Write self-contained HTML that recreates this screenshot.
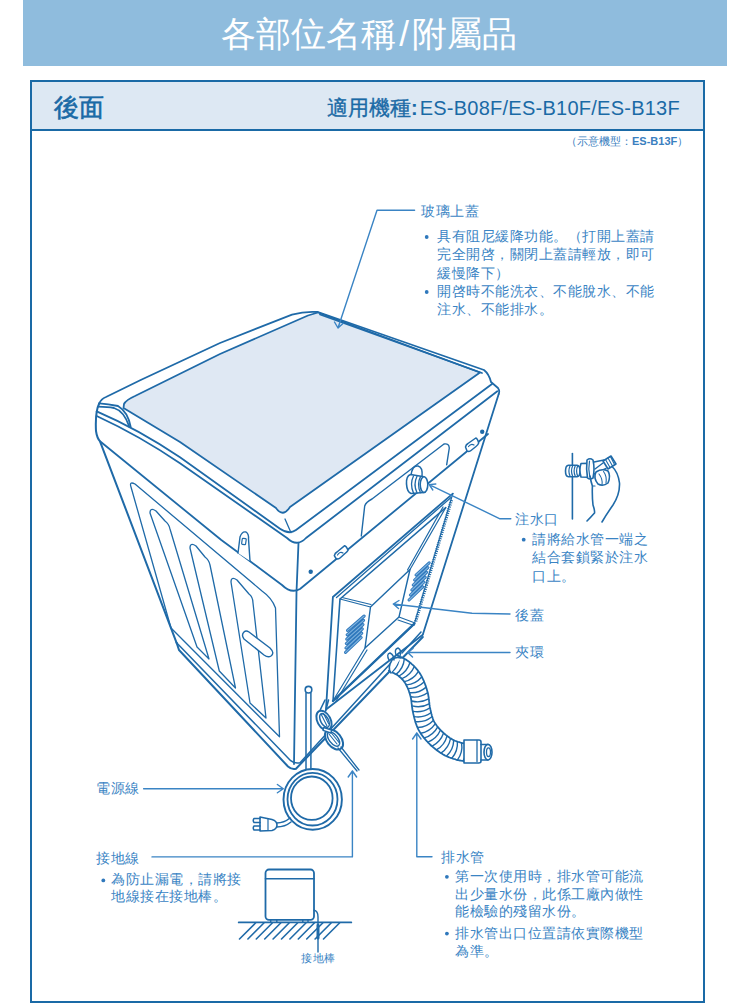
<!DOCTYPE html>
<html><head><meta charset="utf-8">
<style>
html,body{margin:0;padding:0;background:#fff;}
body{width:750px;height:1007px;position:relative;overflow:hidden;font-family:"Liberation Sans",sans-serif;}
.hdr{position:absolute;left:23px;top:0;width:704px;height:66px;background:#8fbcdd;}
.title{position:absolute;left:-6px;top:1px;width:750px;text-align:center;color:#fff;font-size:35px;line-height:66px;}
.frame{position:absolute;left:30px;top:80px;width:671px;height:919px;border:2px solid #1a6aa6;}
.row{position:absolute;left:32px;top:82px;width:671px;height:47px;background:#dde8f3;border-bottom:2px solid #1a6aa6;}
.t{position:absolute;white-space:nowrap;color:#3a84c4;font-size:14px;letter-spacing:0.5px;line-height:18px;}
svg{position:absolute;left:0;top:0;}
</style></head><body>
<div class="hdr"></div>
<div class="title">各部位名稱<span style="margin:0 3px">/</span>附屬品</div>
<div class="frame"></div>
<div class="row"></div>
<div class="t" style="left:54px;top:89px;font-size:25px;line-height:36px;color:#1a6aa6;font-weight:normal;letter-spacing:0;-webkit-text-stroke:0.6px #1a6aa6;">後面</div>
<div class="t" style="left:327px;top:95px;font-size:20px;line-height:26px;color:#1a6aa6;letter-spacing:0;"><b style="font-size:21px;font-weight:normal;-webkit-text-stroke:0.35px #1a6aa6">適用機種</b><b style="margin:0 2px 0 0">:</b><span style="letter-spacing:0.25px">ES-B08F/ES-B10F/ES-B13F</span></div>
<div class="t" style="left:566px;top:134px;font-size:11px;line-height:14px;color:#3a80c0;letter-spacing:0;">（示意機型：<b>ES-B13F</b>）</div>
<svg width="750" height="1007" viewBox="0 0 750 1007">
<g fill="none" stroke="#1f6aa8" stroke-width="1.8" stroke-linejoin="round" stroke-linecap="round">
<!-- lid fill -->
<path d="M124,404 Q126,400 135,396 L220,354 L308,315.5 L318,312.5 L480,372.5 L290,507 Q283,518 276,508 L180,442 L123.5,408 Z" fill="#dfe8f3" stroke-width="1.8"/>
<!-- outer top silhouette -->
<path d="M99.3,403.3 Q101,399 106,397 L140.7,380 L220,343 L292,314.6 Q305,311 318,312 L484,370 Q489,374 491,382 L498,388 Q500,391 498.7,394"/>
<path d="M320,314.5 L482,373"/>
<!-- lid lip -->
<path d="M99.3,403.3 Q108,404 118,406 Q128,412 130.7,427"/>
<path d="M98,406.7 Q108,407 114,408 Q124,411 129.3,426.7"/>
<!-- outer left edge -->
<path d="M99.3,403.3 Q95,412 96,431 Q97,438 100,441.3 L176.6,642.8" stroke-width="2"/>
<!-- rim A -->
<path d="M96.7,411.3 Q140,430 180,457.3 L280,528.7 Q289,535 296,530 L492,384"/>
<!-- rim B -->
<path d="M96.7,416 Q140,436 180,463.3 L287,538 Q297,547.5 306,538 L497.3,391.3"/>
<!-- tick near front corner -->
<path d="M285,519 L291,532.7" stroke-width="1.3"/>
<!-- band line both faces -->
<path d="M100,441.3 L221.3,540 L282,585 Q291,594 300,589 L488,434"/>
<!-- front vertical edge -->
<path d="M298.5,542.7 L296.5,592 L294,764"/>
<!-- right vertical edge -->
<path d="M498.7,394 L423,634"/>
<!-- left bottom double -->
<path d="M176.6,642.8 L179,650 L288,766.5 Q292,770 296,768.7 L390,671 M401,659.5 L422.8,637" stroke-width="2"/>
<path d="M176.6,642.8 L290.7,760.7 Q295,764 300,762.7 L390,664 M402,653 L421,632" stroke-width="1.5"/>
<!-- panel recess on right face -->
<path d="M361.3,536 L364.7,506 Q366,502 372,499 L444,444 Q449,443 449.3,448 L446.7,464.7" stroke-width="1.4"/>
<!-- hooks right face -->
<path d="M334.3,555.7 Q335,553 337,552 L344.7,545.7 Q346.5,546 348,550.3 Q347,552 345,553.5 L340,558 Q338.5,559.5 336,558.5 Z" stroke-width="1.5" fill="#fff"/>
<path d="M337.5,555 Q340,551 343,553" stroke-width="1.2"/>
<path d="M465.5,447 Q466,444.5 468,443.5 L475.8,438 Q477.5,438.5 478.7,443 Q478,445 476,446.5 L471,450.5 Q469.5,452 467,451 Z" stroke-width="1.5" fill="#fff"/>
<path d="M468.5,446.5 Q471,443 474,445" stroke-width="1.2"/>
<circle cx="310.7" cy="571.7" r="2.2" fill="#1f6aa8" stroke="none"/>
<circle cx="482.2" cy="431.7" r="2.2" fill="#1f6aa8" stroke="none"/>
<!-- left face panel frame -->
<path d="M131,487 Q129,481 135,484 L262,591 Q272,598 275.5,608 L279.5,736.8 L171,628 Z" stroke-width="1.3"/>
<!-- ribs -->
<path d="M150,513 Q150,507 156,511 L165,521 Q169,524 170,529 L209,659 L197,647 Z" stroke-width="1.3"/>
<path d="M190,548 Q190,542 196,546 L205,557 Q209,560 210,565 L235.5,688 L219.3,671 Z" stroke-width="1.3"/>
<path d="M231,582 Q231,576 237,580 L249,594 Q253,597 253,603 L266,718 L250,703 Z" stroke-width="1.3"/>
<!-- handle slot -->
<path d="M249,632 L270,648 Q275,653 271,656 Q268,658 264,655 L244,639 Q241,635 244,632 Q246,630 249,632 Z" stroke-width="1.4" fill="#fff"/>
<!-- left hook tab -->
<path d="M238,553 L240,537 Q242,531 246,532 Q249,534 248.5,539 L250,561" stroke-width="1.4" fill="#fff"/>
<rect x="242" y="538.5" width="4" height="6" rx="0.8" stroke-width="1.2" transform="rotate(8 244 541)"/>
<!-- cover outer -->
<path d="M452.8,493.6 L332.9,597 L326,709.5 L422.8,634.7" stroke-width="1.8"/>
<path d="M451,497.5 L336.5,597.5" stroke-width="1.3"/>
<path d="M414.4,623.6 L333,701 L340,599 L445.7,507.7" stroke-width="1.6"/><path d="M452.8,493.6 L414.4,623.6" stroke-width="1.2"/>
<path d="M414.4,623.6 L333,701" stroke-width="2.4"/>
<path d="M451.5,500 L415.5,622" stroke-width="3.2" stroke-dasharray="1.1 1.1" stroke-linecap="butt"/>
<!-- inner box -->
<path d="M370.5,607 L410,569.5 L399,617 L365,648 Z" stroke-width="1.4"/>
<path d="M340,599 L370.5,607 M342,597.5 L371,604.5 M445.7,507.7 L410,569.5 M443,507 L407.5,570 M414.4,622.8 L399,617 M414,625.5 L398,620 M333,700.8 L365,648 M336,701 L367,650" stroke-width="1.2"/>
<!-- water inlet -->
<path d="M411,476 Q412,465 418,466 Q423,467 422,477" stroke-width="1.5"/>
<path d="M410.5,474.5 Q406,476 406.5,484 Q407,492 411,493.5 L424,492.5 L424,476.8 Z" fill="#fff" stroke-width="1.6"/>
<path d="M413.5,476 Q409.5,484 413.5,493 M417,476.3 Q413,484.5 417,492.8 M420.5,476.6 Q416.5,484.5 420.5,492.6" stroke-width="1.3"/>
<ellipse cx="424" cy="484.6" rx="3.8" ry="7.8" fill="#fff" stroke-width="1.6"/>
<!-- vents -->
<path d="M347.5,630.4 L364.2,616.0 M347.1,634.8 L363.6,620.3 M346.7,639.2 L363.0,624.6 M346.3,643.6 L362.4,628.9 M345.9,648.0 L361.8,633.2 M345.5,652.4 L361.2,637.5 M416.0,575.0 L429.2,562.8 M414.6,580.0 L427.9,567.6 M413.2,585.0 L426.6,572.4 M411.8,590.0 L425.3,577.2 M410.4,595.0 L424.0,582.0 M409.0,600.0 L422.7,586.8 " stroke="#2f78bc" stroke-width="3"/><path d="M347.5,630.4 L364.2,616.0 M347.1,634.8 L363.6,620.3 M346.7,639.2 L363.0,624.6 M346.3,643.6 L362.4,628.9 M345.9,648.0 L361.8,633.2 M345.5,652.4 L361.2,637.5 M416.0,575.0 L429.2,562.8 M414.6,580.0 L427.9,567.6 M413.2,585.0 L426.6,572.4 M411.8,590.0 L425.3,577.2 M410.4,595.0 L424.0,582.0 M409.0,600.0 L422.7,586.8 " stroke="#7fb3df" stroke-width="1.1"/>
<!-- hose -->
<path d="M388.8,670.7 L389.8,671.3 L390.8,671.8 L391.7,672.2 L392.6,672.6 L393.5,673.0 L394.3,673.4 L395.0,673.8 L395.7,674.1 L396.3,674.5 L396.9,674.8 L397.5,675.1 L397.9,675.4 L398.4,675.8 L398.9,676.2 L399.5,676.7 L400.1,677.2 L400.7,677.8 L401.3,678.3 L401.8,678.9 L402.3,679.4 L402.9,680.0 L403.4,680.6 L403.8,681.2 L404.3,681.8 L404.7,682.4 L405.2,683.1 L405.6,683.8 L406.0,684.5 L406.4,685.3 L406.8,686.2 L407.3,687.1 L407.7,688.0 L408.1,689.0 L408.5,690.0 L408.9,691.0 L409.2,692.1 L409.6,693.2 L409.9,694.2 L410.2,695.3 L410.5,696.3 L410.7,697.1 L410.9,698.0 L411.1,699.0 L411.2,700.0 L411.4,701.1 L411.5,702.2 L411.6,703.4 L411.8,704.6 L411.9,705.9 L412.1,707.2 L412.3,708.6 L412.5,710.0 L412.8,711.4 L413.1,712.7 L413.3,713.9 L413.6,715.1 L413.9,716.3 L414.2,717.5 L414.5,718.8 L414.9,720.1 L415.2,721.4 L415.6,722.7 L416.1,724.0 L416.6,725.4 L417.1,726.7 L417.7,728.0 L418.3,729.4 L419.0,730.6 L419.7,731.8 L420.5,733.0 L421.2,734.2 L422.0,735.3 L422.8,736.4 L423.6,737.4 L424.4,738.4 L425.3,739.4 L426.1,740.4 L427.0,741.3 L427.8,742.3 L428.7,743.2 L429.7,744.1 L430.6,745.0 L431.6,746.0 L432.7,746.9 L433.7,747.7 L434.7,748.6 L435.8,749.4 L436.8,750.2 L437.9,751.0 L439.0,751.8 L440.0,752.5 L441.1,753.2 L442.1,753.8 L443.2,754.5 L444.3,755.1 L445.4,755.7 L446.5,756.2 L447.6,756.7 L448.6,757.1 L449.6,757.5 L450.6,757.8 L451.6,758.2 L452.5,758.5 L453.3,758.8 L454.1,759.0 L454.9,759.2 L455.7,759.5 L456.6,759.8 L457.5,760.0 L458.4,760.2 L459.2,760.4 L460.0,760.5 L460.7,760.6 L461.3,760.7 L462.0,760.8 L462.5,760.9 L463.0,760.9 L463.5,761.0 L464.0,761.1 L464.4,761.2 L467.6,743.8 L466.9,743.7 L466.1,743.6 L465.5,743.5 L464.9,743.4 L464.3,743.3 L463.8,743.3 L463.3,743.2 L462.9,743.1 L462.5,743.1 L462.1,743.0 L461.7,742.9 L461.2,742.8 L460.8,742.7 L460.2,742.5 L459.4,742.2 L458.7,742.0 L458.0,741.8 L457.3,741.5 L456.6,741.3 L455.9,741.0 L455.2,740.8 L454.5,740.5 L453.9,740.2 L453.2,739.9 L452.6,739.6 L452.0,739.2 L451.3,738.8 L450.6,738.4 L449.8,737.9 L449.0,737.3 L448.2,736.7 L447.4,736.1 L446.6,735.5 L445.8,734.9 L445.0,734.2 L444.2,733.5 L443.4,732.9 L442.7,732.2 L442.0,731.5 L441.3,730.8 L440.6,730.1 L439.9,729.4 L439.2,728.7 L438.6,727.9 L438.0,727.2 L437.4,726.5 L436.8,725.7 L436.3,725.0 L435.8,724.3 L435.3,723.5 L434.8,722.8 L434.4,722.1 L434.0,721.3 L433.6,720.6 L433.3,719.9 L433.0,719.1 L432.7,718.2 L432.4,717.3 L432.1,716.4 L431.8,715.4 L431.6,714.4 L431.3,713.4 L431.0,712.3 L430.8,711.2 L430.5,710.0 L430.3,708.9 L430.0,707.8 L429.8,706.9 L429.7,705.9 L429.5,704.9 L429.4,703.8 L429.3,702.6 L429.1,701.4 L429.0,700.2 L428.8,698.9 L428.7,697.5 L428.4,696.1 L428.2,694.7 L427.9,693.2 L427.5,691.7 L427.1,690.4 L426.7,689.1 L426.3,687.8 L425.9,686.4 L425.4,685.1 L424.9,683.8 L424.4,682.5 L423.9,681.2 L423.3,679.9 L422.7,678.6 L422.1,677.3 L421.5,676.1 L420.8,674.9 L420.1,673.7 L419.3,672.5 L418.5,671.4 L417.8,670.4 L416.9,669.4 L416.1,668.4 L415.3,667.5 L414.4,666.6 L413.6,665.7 L412.7,664.9 L411.8,664.1 L411.0,663.3 L410.1,662.6 L409.1,661.8 L408.0,661.0 L406.9,660.3 L405.9,659.6 L404.8,659.0 L403.8,658.5 L402.8,658.0 L401.9,657.5 L401.0,657.1 L400.1,656.7 L399.3,656.3 L398.6,656.0 L397.9,655.6 L397.2,655.3 Z" fill="#fff" stroke="none"/>
<path d="M388.8,670.7 L389.8,671.3 L390.8,671.8 L391.7,672.2 L392.6,672.6 L393.5,673.0 L394.3,673.4 L395.0,673.8 L395.7,674.1 L396.3,674.5 L396.9,674.8 L397.5,675.1 L397.9,675.4 L398.4,675.8 L398.9,676.2 L399.5,676.7 L400.1,677.2 L400.7,677.8 L401.3,678.3 L401.8,678.9 L402.3,679.4 L402.9,680.0 L403.4,680.6 L403.8,681.2 L404.3,681.8 L404.7,682.4 L405.2,683.1 L405.6,683.8 L406.0,684.5 L406.4,685.3 L406.8,686.2 L407.3,687.1 L407.7,688.0 L408.1,689.0 L408.5,690.0 L408.9,691.0 L409.2,692.1 L409.6,693.2 L409.9,694.2 L410.2,695.3 L410.5,696.3 L410.7,697.1 L410.9,698.0 L411.1,699.0 L411.2,700.0 L411.4,701.1 L411.5,702.2 L411.6,703.4 L411.8,704.6 L411.9,705.9 L412.1,707.2 L412.3,708.6 L412.5,710.0 L412.8,711.4 L413.1,712.7 L413.3,713.9 L413.6,715.1 L413.9,716.3 L414.2,717.5 L414.5,718.8 L414.9,720.1 L415.2,721.4 L415.6,722.7 L416.1,724.0 L416.6,725.4 L417.1,726.7 L417.7,728.0 L418.3,729.4 L419.0,730.6 L419.7,731.8 L420.5,733.0 L421.2,734.2 L422.0,735.3 L422.8,736.4 L423.6,737.4 L424.4,738.4 L425.3,739.4 L426.1,740.4 L427.0,741.3 L427.8,742.3 L428.7,743.2 L429.7,744.1 L430.6,745.0 L431.6,746.0 L432.7,746.9 L433.7,747.7 L434.7,748.6 L435.8,749.4 L436.8,750.2 L437.9,751.0 L439.0,751.8 L440.0,752.5 L441.1,753.2 L442.1,753.8 L443.2,754.5 L444.3,755.1 L445.4,755.7 L446.5,756.2 L447.6,756.7 L448.6,757.1 L449.6,757.5 L450.6,757.8 L451.6,758.2 L452.5,758.5 L453.3,758.8 L454.1,759.0 L454.9,759.2 L455.7,759.5 L456.6,759.8 L457.5,760.0 L458.4,760.2 L459.2,760.4 L460.0,760.5 L460.7,760.6 L461.3,760.7 L462.0,760.8 L462.5,760.9 L463.0,760.9 L463.5,761.0 L464.0,761.1 L464.4,761.2 M397.2,655.3 L397.9,655.6 L398.6,656.0 L399.3,656.3 L400.1,656.7 L401.0,657.1 L401.9,657.5 L402.8,658.0 L403.8,658.5 L404.8,659.0 L405.9,659.6 L406.9,660.3 L408.0,661.0 L409.1,661.8 L410.1,662.6 L411.0,663.3 L411.8,664.1 L412.7,664.9 L413.6,665.7 L414.4,666.6 L415.3,667.5 L416.1,668.4 L416.9,669.4 L417.8,670.4 L418.5,671.4 L419.3,672.5 L420.1,673.7 L420.8,674.9 L421.5,676.1 L422.1,677.3 L422.7,678.6 L423.3,679.9 L423.9,681.2 L424.4,682.5 L424.9,683.8 L425.4,685.1 L425.9,686.4 L426.3,687.8 L426.7,689.1 L427.1,690.4 L427.5,691.7 L427.9,693.2 L428.2,694.7 L428.4,696.1 L428.7,697.5 L428.8,698.9 L429.0,700.2 L429.1,701.4 L429.3,702.6 L429.4,703.8 L429.5,704.9 L429.7,705.9 L429.8,706.9 L430.0,707.8 L430.3,708.9 L430.5,710.0 L430.8,711.2 L431.0,712.3 L431.3,713.4 L431.6,714.4 L431.8,715.4 L432.1,716.4 L432.4,717.3 L432.7,718.2 L433.0,719.1 L433.3,719.9 L433.6,720.6 L434.0,721.3 L434.4,722.1 L434.8,722.8 L435.3,723.5 L435.8,724.3 L436.3,725.0 L436.8,725.7 L437.4,726.5 L438.0,727.2 L438.6,727.9 L439.2,728.7 L439.9,729.4 L440.6,730.1 L441.3,730.8 L442.0,731.5 L442.7,732.2 L443.4,732.9 L444.2,733.5 L445.0,734.2 L445.8,734.9 L446.6,735.5 L447.4,736.1 L448.2,736.7 L449.0,737.3 L449.8,737.9 L450.6,738.4 L451.3,738.8 L452.0,739.2 L452.6,739.6 L453.2,739.9 L453.9,740.2 L454.5,740.5 L455.2,740.8 L455.9,741.0 L456.6,741.3 L457.3,741.5 L458.0,741.8 L458.7,742.0 L459.4,742.2 L460.2,742.5 L460.8,742.7 L461.2,742.8 L461.7,742.9 L462.1,743.0 L462.5,743.1 L462.9,743.1 L463.3,743.2 L463.8,743.3 L464.3,743.3 L464.9,743.4 L465.5,743.5 L466.1,743.6 L466.9,743.7 L467.6,743.8" stroke-width="1.8"/>
<path d="M392.1,672.1 Q399.0,665.9 399.5,656.7 M396.3,674.1 Q403.4,668.3 404.3,659.1 M399.1,676.0 Q407.2,671.6 409.9,662.8 M402.0,678.7 Q410.6,675.2 414.2,666.8 M404.5,681.6 Q413.5,679.4 418.3,671.6 M406.5,684.9 Q415.7,684.1 421.7,677.0 M408.2,688.6 Q417.4,688.6 424.0,682.1 M409.7,692.7 Q418.9,693.4 425.9,687.4 M410.9,696.8 Q420.0,698.2 427.5,692.8 M411.6,701.0 Q420.5,703.4 428.6,698.9 M412.2,705.9 Q421.1,708.3 429.1,703.8 M413.1,711.4 Q422.1,713.0 429.8,707.8 M414.3,716.6 Q423.4,718.1 430.9,712.7 M415.6,721.7 Q424.8,722.6 431.9,716.8 M417.7,727.5 Q427.0,727.2 433.3,720.5 M420.9,733.3 Q430.0,731.5 435.2,723.9 M424.4,737.9 Q433.2,735.2 437.6,727.1 M428.0,742.1 Q436.6,738.7 440.4,730.3 M432.2,746.1 Q440.4,742.0 443.5,733.3 M436.7,749.7 Q444.6,745.1 447.0,736.1 M441.2,752.9 Q448.8,747.7 450.5,738.6 M446.6,755.9 Q453.4,749.6 453.7,740.4 M452.0,758.0 Q458.0,751.1 457.4,741.8 M457.6,759.7 Q463.0,752.3 461.6,743.1 M463.2,760.7 Q467.9,752.7 465.7,743.8" stroke-width="1.4"/>
<path d="M391,673 Q387,668 392,660 Q396,656 401,658" stroke-width="1.6" fill="#fff"/>
<path d="M389,660 Q386,654 390,653 Q394,655 394,660 M396,655 Q394,649 398,648 Q402,650 400,656" stroke-width="1.4"/>
<path d="M464,740 L479,740 Q481,740 481,742 L481,761 Q481,763 479,763 L464,763 Z" fill="#fff" stroke-width="1.6"/>
<path d="M477,740.5 L477,761.5" stroke-width="1.3"/>
<path d="M481,744.5 L488,744.5 M481,760 L488,760" stroke-width="1.6"/>
<ellipse cx="488" cy="752.2" rx="4" ry="7.8" fill="#fff" stroke-width="1.6"/>
<ellipse cx="488.5" cy="752.2" rx="2" ry="4.3" stroke-width="1.3"/>
<!-- ground rod -->
<path d="M306,693 L306,769 M310.9,693 L310.9,769" stroke-width="1.5"/>
<circle cx="308.5" cy="689.7" r="3.3" stroke-width="1.6"/>
<!-- cord bundle -->
<path d="M319.7,711 L325,700 M325.6,711 L328.5,700" stroke-width="1.6"/>
<ellipse cx="324" cy="720.5" rx="10.5" ry="6.6" transform="rotate(62 324 720.5)" fill="#fff" stroke-width="2"/>
<ellipse cx="324.5" cy="720.5" rx="7.5" ry="3.8" transform="rotate(62 324.5 720.5)" stroke-width="1.5"/>
<path d="M321,714 L327,726 M323.5,713.5 L328.5,723.5" stroke-width="1.1"/>
<ellipse cx="334" cy="739.5" rx="11.5" ry="7.2" transform="rotate(52 334 739.5)" fill="#fff" stroke-width="2"/>
<ellipse cx="333.5" cy="739" rx="8.5" ry="4.3" transform="rotate(52 333.5 739)" stroke-width="1.5"/>
<path d="M329,734 L337,744 M331,732.5 L339,742.5" stroke-width="1.1"/>
<path d="M323.8,727.5 L331.6,730.2 L330.8,733 L323,730.3 Z" fill="#fff" stroke-width="1.4"/>
<path d="M338,748 L357,771 M341,747 L359,770" stroke-width="1.3"/>
<!-- coil -->
<ellipse cx="312.7" cy="799.4" rx="29.2" ry="30.4" stroke-width="1.9"/>
<ellipse cx="312.5" cy="799.2" rx="25" ry="26.3" stroke-width="1.8"/>
<ellipse cx="311.8" cy="798.2" rx="20.8" ry="21.7" stroke-width="1.8"/>
<!-- plug -->
<path d="M290,818 Q284,823 276.7,823 M291,822 Q285,827 276.7,827" stroke-width="1.5"/>
<path d="M260,817 L272,819.5 Q277,821 277,825 Q277,829 272,830.5 L260,831 Z" fill="#fff" stroke-width="1.6"/>
<path d="M268,818.5 L268,830.5" stroke-width="1.2"/>
<path d="M260,818.5 L254,818.5 Q252.5,820.5 254,822.5 L260,822.5 M260,826 L254,826 Q252.5,828 254,830 L260,830" stroke-width="1.5"/>
<!-- small box figure -->
<rect x="265.5" y="869.5" width="48.5" height="50.3" rx="3.5" stroke-width="1.8"/>
<path d="M265.5,878.7 L314,878.7" stroke-width="1.6"/>
<path d="M270.7,920 L270.7,922 M276.8,920 L276.8,922 M302.8,920 L302.8,922 M308,920 L308,922" stroke-width="1.4"/>
<path d="M238.7,922.4 L351.3,922.4" stroke-width="1.8"/>
<path d="M239.5,939 L255.5,923 M247.9,939 L263.9,923 M256.3,939 L272.3,923 M264.7,939 L280.7,923 M273.1,939 L289.1,923 M281.5,939 L297.5,923 M289.9,939 L305.9,923 M298.3,939 L314.3,923 M306.7,939 L322.7,923 M315.1,939 L331.1,923 M323.5,939 L339.5,923 " stroke-width="1.6"/>
<path d="M314,910.3 Q318,911 318,917 L318,952" stroke-width="1.4"/>
<path d="M318,925 L318,938" stroke-width="3"/>
<!-- hand figure -->
<path d="M572.4,453.6 L572.4,519" stroke-width="1.6"/>
<path d="M568.5,465.2 L577,465.2 Q580,465.5 580,471 Q580,476.6 577,476.8 L568.5,476.8 Q565.5,476.5 565.5,471 Q565.5,465.5 568.5,465.2 Z" fill="#fff" stroke-width="1.6"/>
<path d="M570,466 Q567.8,471 570,476 M572.6,466 Q570.4,471 572.6,476 M575.2,466 Q573,471 575.2,476 M577.6,466 Q575.6,471 577.6,476" stroke-width="1.2"/>
<path d="M581,463.5 L588,463.2 L588.4,477.2 L581,477 Q578.8,470 581,463.5 Z" fill="#fff" stroke-width="1.6"/>
<path d="M587,460 Q590,457.5 593,460 Q595,469 593,478 Q590,480 587.5,478 Q586,469 587,460 Z" fill="#fff" stroke-width="1.6"/>
<path d="M589.5,461 Q588,469 589.8,477" stroke-width="1.2"/>
<path d="M594,462 L604,460 M594,474 L606,468.5 M595,469 L603,463" stroke-width="1.4"/>
<path d="M603,461 L611,456 L616,464 L608,469 Z" fill="#fff" stroke-width="1.6"/>
<path d="M605.5,459.5 L610,467.5 M608,458 L612.5,466 M610.5,456.8 L614.5,464.5" stroke-width="1.1"/>
<path d="M596,472 Q602,468 608,471 Q611,476 608,483 Q603,487 598,484 Q593,478 596,472 Z" fill="#fff" stroke-width="1.6"/>
<path d="M599,474 Q603,479 602,485 M603.5,471.5 Q607,476 606,483" stroke-width="1.1"/>
<path d="M612.5,467 Q618,472 619.5,483 Q620,494 613,505 Q606,515 602,522" stroke-width="1.6"/>
<path d="M590,476 Q591,482 592.4,486 Q592,496 593,505 Q595,511 594.5,513 Q591,517 587,521" stroke-width="1.6"/>
<path d="M592.5,486 L595,486" stroke-width="1.2"/>
</g>
<g fill="none" stroke="#3a84c4" stroke-width="1.4" stroke-linejoin="round" stroke-linecap="round">
<path d="M414.6,210.2 L377,210.2 L338,328 M334.5,322 L338,328 L343,323.5"/>
<path d="M510.8,518.8 L500,518.8 L429.2,484.6 M435.8,484 L429.2,484.6 L432.8,490"/>
<path d="M510,614 L472,613.3 L393.3,604 M399,600.5 L393.3,604 L398.5,608.5"/>
<path d="M510,652.5 L407.7,652.5 M413,648.5 L407.7,652.5 L412.5,657"/>
<path d="M143.6,788.7 L283.3,788.7 M277.4,784.5 L283.3,788.7 L277.4,792.8"/>
<path d="M152,856.9 L352.4,856.9 L352.4,771 M348.2,777 L352.4,771 L356.6,777"/>
<path d="M432,856.8 L416.8,856.8 L416.8,733 M412.6,739 L416.8,733 L421,739"/>
</g>
<g fill="#2f78bc"><circle cx="426.7" cy="237" r="1.9"/><circle cx="426.7" cy="292" r="1.9"/><circle cx="523.7" cy="539.7" r="1.9"/><circle cx="103.3" cy="880.4" r="1.9"/><circle cx="446.9" cy="876.8" r="1.9"/><circle cx="446.9" cy="933.6" r="1.9"/></g>
</svg><div class="t" style="left:421px;top:202px;">玻璃上蓋</div>
<div class="t" style="left:437px;top:227px;line-height:18.35px;">具有阻尼緩降功能。（打開上蓋請<br>完全開啓，關閉上蓋請輕放，即可<br>緩慢降下）<br>開啓時不能洗衣、不能脫水、不能<br>注水、不能排水。</div>
<div class="t" style="left:515px;top:510px;">注水口</div>
<div class="t" style="left:532px;top:530px;line-height:18.4px;">請將給水管一端之<br>結合套鎖緊於注水<br>口上。</div>
<div class="t" style="left:515px;top:606px;">後蓋</div>
<div class="t" style="left:515px;top:643px;">夾環</div>
<div class="t" style="left:96px;top:779px;">電源線</div>
<div class="t" style="left:96px;top:849px;">接地線</div>
<div class="t" style="left:111px;top:871px;line-height:16.8px;">為防止漏電，請將接<br>地線接在接地棒。</div>
<div class="t" style="left:441px;top:848px;">排水管</div>
<div class="t" style="left:455px;top:868px;line-height:17.6px;">第一次使用時，排水管可能流<br>出少量水份，此係工廠內做性<br>能檢驗的殘留水份。</div>
<div class="t" style="left:455px;top:925px;line-height:17.6px;">排水管出口位置請依實際機型<br>為準。</div>
<div class="t" style="left:301px;top:951px;font-size:11px;line-height:14px;">接地棒</div>

</body></html>
